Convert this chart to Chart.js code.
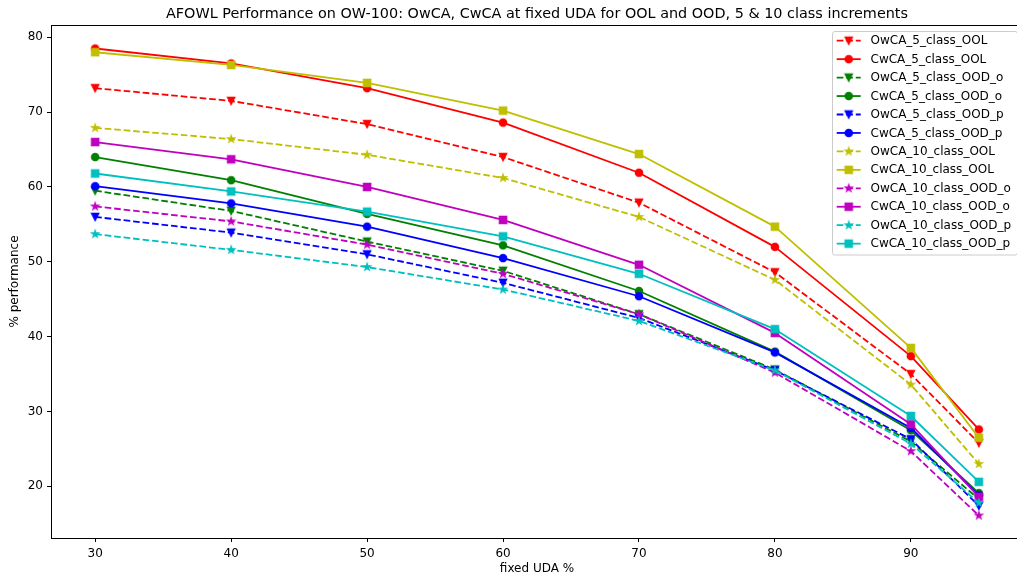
<!DOCTYPE html>
<html>
<head>
<meta charset="utf-8">
<script src="https://cdn.jsdelivr.net/npm/chart.js@4.4.1/dist/chart.umd.min.js"></script>
<style>
  html, body { margin: 0; padding: 0; background: #fff; overflow: hidden; width: 1017px; height: 577px; }
  canvas { display: block; }
</style>
</head>
<body>
<canvas id="myChart" width="1030" height="577"></canvas>
<script>
const udaValues = [30, 40, 50, 60, 70, 80, 90, 95];
const xTicks = [30, 40, 50, 60, 70, 80, 90];
const yTicks = [20, 30, 40, 50, 60, 70, 80];

const owca5Ool     = [73.2, 71.5, 68.4, 64.0, 57.9, 48.6, 35.0, 25.8];
const cwca5Ool     = [78.5, 76.5, 73.2, 68.6, 61.9, 52.0, 37.4, 27.6];
const owca5OodO    = [59.5, 56.8, 52.7, 48.8, 43.0, 35.6, 26.0, 18.3];
const cwca5OodO    = [64.0, 60.9, 56.4, 52.2, 46.1, 38.0, 27.5, 19.1];
const owca5OodP    = [56.0, 53.9, 51.0, 47.2, 42.5, 35.5, 26.3, 17.4];
const cwca5OodP    = [60.1, 57.8, 54.7, 50.5, 45.4, 37.9, 27.8, 18.8];
const owca10Ool    = [67.9, 66.4, 64.3, 61.2, 56.0, 47.6, 33.6, 23.0];
const cwca10Ool    = [78.0, 76.3, 73.9, 70.2, 64.4, 54.7, 38.5, 26.5];
const owca10OodO   = [57.4, 55.4, 52.3, 48.4, 43.0, 35.2, 24.7, 16.1];
const cwca10OodO   = [66.0, 63.7, 60.0, 55.6, 49.6, 40.5, 28.3, 18.6];
const owca10OodP   = [53.7, 51.6, 49.3, 46.3, 42.1, 35.5, 25.7, 17.8];
const cwca10OodP   = [61.8, 59.4, 56.7, 53.4, 48.4, 41.0, 29.4, 20.6];

// matplotlib-ish colours
const R = "#ff0000", G = "#008000", B = "#0000ff", Y = "#bfbf00", M = "#bf00bf", C = "#00bfbf";

const series = [
  { name: "OwCA_5_class_OOL",    data: owca5Ool,   color: R, dashed: true,  marker: "tri" },
  { name: "CwCA_5_class_OOL",    data: cwca5Ool,   color: R, dashed: false, marker: "circle" },
  { name: "OwCA_5_class_OOD_o",  data: owca5OodO,  color: G, dashed: true,  marker: "tri" },
  { name: "CwCA_5_class_OOD_o",  data: cwca5OodO,  color: G, dashed: false, marker: "circle" },
  { name: "OwCA_5_class_OOD_p",  data: owca5OodP,  color: B, dashed: true,  marker: "tri" },
  { name: "CwCA_5_class_OOD_p",  data: cwca5OodP,  color: B, dashed: false, marker: "circle" },
  { name: "OwCA_10_class_OOL",   data: owca10Ool,  color: Y, dashed: true,  marker: "star" },
  { name: "CwCA_10_class_OOL",   data: cwca10Ool,  color: Y, dashed: false, marker: "square" },
  { name: "OwCA_10_class_OOD_o", data: owca10OodO, color: M, dashed: true,  marker: "star" },
  { name: "CwCA_10_class_OOD_o", data: cwca10OodO, color: M, dashed: false, marker: "square" },
  { name: "OwCA_10_class_OOD_p", data: owca10OodP, color: C, dashed: true,  marker: "star" },
  { name: "CwCA_10_class_OOD_p", data: cwca10OodP, color: C, dashed: false, marker: "square" }
];

const DASH = [6.66, 2.88];
const FONT = "DejaVu Sans";

// little canvases used as point styles (filled star etc.)
let makeMarker = (shape, color) => {
  const c = document.createElement("canvas");
  c.width = 14; c.height = 14;
  const g = c.getContext("2d");
  g.translate(7, 7);
  g.fillStyle = color;
  g.strokeStyle = color;
  g.lineWidth = 1.2;
  g.beginPath();
  if (shape === "circle") {
    g.arc(0, 0, 3.7, 0, Math.PI * 2);
  } else if (shape === "square") {
    g.rect(-3.7, -3.7, 7.4, 7.4);
  } else if (shape === "tri") {
    g.moveTo(0, 3.7); g.lineTo(-3.7, -3.7); g.lineTo(3.7, -3.7); g.closePath();
  } else {
    for (let k = 0; k < 10; k++) {
      const r = k % 2 ? 3.7 * 0.381966 : 3.7;
      const a = -Math.PI / 2 + k * Math.PI / 5;
      if (k === 0) g.moveTo(r * Math.cos(a), r * Math.sin(a));
      else g.lineTo(r * Math.cos(a), r * Math.sin(a));
    }
    g.closePath();
  }
  g.fill();
  g.stroke();
  return c;
};

series.forEach(s => { s.img = makeMarker(s.marker, s.color); });

document.addEventListener("DOMContentLoaded", () => {
  const ctx = document.getElementById("myChart").getContext("2d");
  Chart.defaults.font.family = FONT;
  Chart.defaults.font.size = 12;
  Chart.defaults.color = "#000";

  const datasets = series.map((s, i) => ({
    label: s.name,
    data: s.data.map((v, j) => ({ x: udaValues[j], y: v })),
    borderColor: s.color,
    backgroundColor: s.color,
    borderWidth: 1.8,
    borderDash: s.dashed ? DASH : [],
    borderJoinStyle: "round",
    pointStyle: s.img,
    pointRadius: 4,
    pointHoverRadius: 4,
    tension: 0,
    order: series.length - i
  }));

  const framePlugin = {
    id: "frame",
    afterDatasetsDraw(chart) {
      const a = chart.chartArea;
      const c = chart.ctx;
      c.save();
      c.strokeStyle = "#000";
      c.lineWidth = 1;
      c.strokeRect(Math.round(a.left) + 0.5, Math.round(a.top) + 0.5,
                   Math.round(a.right - a.left), Math.round(a.bottom - a.top));
      c.restore();
    },
    afterDraw(chart) {
      const c = chart.ctx;
      const a = chart.chartArea;
      c.save();
      // title
      c.fillStyle = "#000";
      c.font = "14.4px " + FONT;
      c.textAlign = "center";
      c.textBaseline = "alphabetic";
      c.fillText("AFOWL Performance on OW-100: OwCA, CwCA at fixed UDA for OOL and OOD, 5 & 10 class increments",
                 (a.left + a.right) / 2, 17.5);

      // legend box, upper right like matplotlib
      const bx = 832.5, by = 31.5, bw = 185, bh = 223.5, rr = 2.4;
      c.beginPath();
      c.moveTo(bx + rr, by);
      c.lineTo(bx + bw - rr, by); c.quadraticCurveTo(bx + bw, by, bx + bw, by + rr);
      c.lineTo(bx + bw, by + bh - rr); c.quadraticCurveTo(bx + bw, by + bh, bx + bw - rr, by + bh);
      c.lineTo(bx + rr, by + bh); c.quadraticCurveTo(bx, by + bh, bx, by + bh - rr);
      c.lineTo(bx, by + rr); c.quadraticCurveTo(bx, by, bx + rr, by);
      c.closePath();
      c.fillStyle = "rgba(255,255,255,0.8)";
      c.fill();
      c.strokeStyle = "#cccccc";
      c.lineWidth = 1;
      c.stroke();

      c.font = "12px " + FONT;
      c.textAlign = "left";
      c.textBaseline = "middle";
      series.forEach((s, i) => {
        const y = 40.7 + i * 18.45;
        c.beginPath();
        c.setLineDash(s.dashed ? DASH : []);
        c.strokeStyle = s.color;
        c.lineWidth = 1.8;
        c.moveTo(836.7, y);
        c.lineTo(860.7, y);
        c.stroke();
        c.setLineDash([]);
        c.drawImage(s.img, 848.7 - 7, y - 7);
        c.fillStyle = "#000";
        c.fillText(s.name, 870.5, y + 0.5);
      });
      c.restore();
    }
  };

  new Chart(ctx, {
    type: "line",
    data: { datasets: datasets },
    options: {
      responsive: false,
      animation: false,
      devicePixelRatio: 1,
      layout: { padding: { top: 25, right: 7, left: 0, bottom: 0 } },
      plugins: { legend: { display: false }, title: { display: false }, tooltip: { enabled: false } },
      scales: {
        x: {
          type: "linear",
          min: 26.75,
          max: 98.25,
          afterBuildTicks: s => { s.ticks = xTicks.map(v => ({ value: v })); },
          afterFit: s => { s.height = 39; },
          grid: { drawOnChartArea: false, color: "#000", tickLength: 4 },
          border: { display: false },
          ticks: { padding: 5, maxRotation: 0, autoSkip: false, color: "#000" },
          title: { display: true, text: "fixed UDA %", color: "#000", padding: { top: 0, bottom: 1 } }
        },
        y: {
          type: "linear",
          min: 13.1,
          max: 81.64,
          afterBuildTicks: s => { s.ticks = yTicks.map(v => ({ value: v })); },
          afterFit: s => { s.width = 51; },
          grid: { drawOnChartArea: false, color: "#000", tickLength: 4 },
          border: { display: false },
          ticks: { padding: 4, autoSkip: false, color: "#000" },
          title: { display: true, text: "% performance", color: "#000", padding: { top: 8, bottom: 0 } }
        }
      }
    },
    plugins: [framePlugin]
  });
});
</script>
</body>
</html>
